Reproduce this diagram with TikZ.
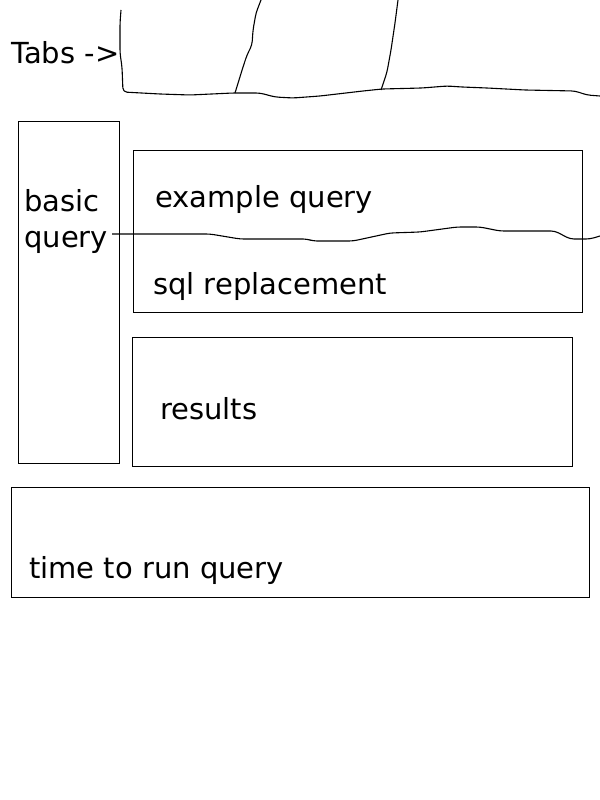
\documentclass[tikz,border=0pt]{standalone}
\usepackage{fontspec}
\setmainfont{DejaVu Sans}
\begin{document}
\begin{tikzpicture}[x=1bp,y=-1bp]
\tikzstyle{pane} = [draw, line width=1bp, inner sep=0, anchor=north west];
\tikzstyle{txt} = [font=\fontsize{29bp}{36bp}\selectfont, inner sep=0, anchor=base west, align=left];
\tikzstyle{hand} = [line width=1.1bp, line join=round, rounded corners=4bp];
\useasboundingbox (0,0) rectangle (600,800);
\node [pane, minimum width=101bp, minimum height=342bp] (p1) at (18,121) {};
\node [pane, minimum width=449bp, minimum height=162bp] (p2) at (133,150) {};
\node [pane, minimum width=440bp, minimum height=129bp] (p3) at (132,337) {};
\node [pane, minimum width=578bp, minimum height=110bp] (p4) at (11,487) {};

\node [txt] (t0) at (11,64) {Tabs ->};
\node [txt] (t1) at (24,247) {basic\\query};
\node [txt] (t2) at (155,207) {example query};
\node [txt] (t3) at (153,294) {sql replacement};
\node [txt] (t4) at (160,419) {results};
\node [txt] (t5) at (29,578) {time to run query};

% tabs
\draw [hand] (121,10) -- (120,23) -- (120,53) -- (122,67) -- (123,92) -- (160,94) -- (190,95) -- (233,93) -- (260,93) -- (275,97) -- (293,98) -- (320,96) -- (363,91) -- (382,89) -- (422,88) -- (447,86) -- (462,87) -- (487,88) -- (525,90) -- (575,91) -- (587,95) -- (600,96);
\draw [hand] (261,0) -- (256,13) -- (253,30) -- (252,45) -- (247,55) -- (243,67) -- (235,93);
\draw [hand] (398,0) -- (395,23) -- (391,50) -- (387,72) -- (381,90);
% split
\draw [hand] (112,234) -- (210,234) -- (240,239) -- (307,239) -- (313,241) -- (353,241) -- (390,233) -- (420,232) -- (457,227) -- (480,227) -- (500,231) -- (555,231) -- (570,239) -- (590,239) -- (600,236);
\end{tikzpicture}
\end{document}
